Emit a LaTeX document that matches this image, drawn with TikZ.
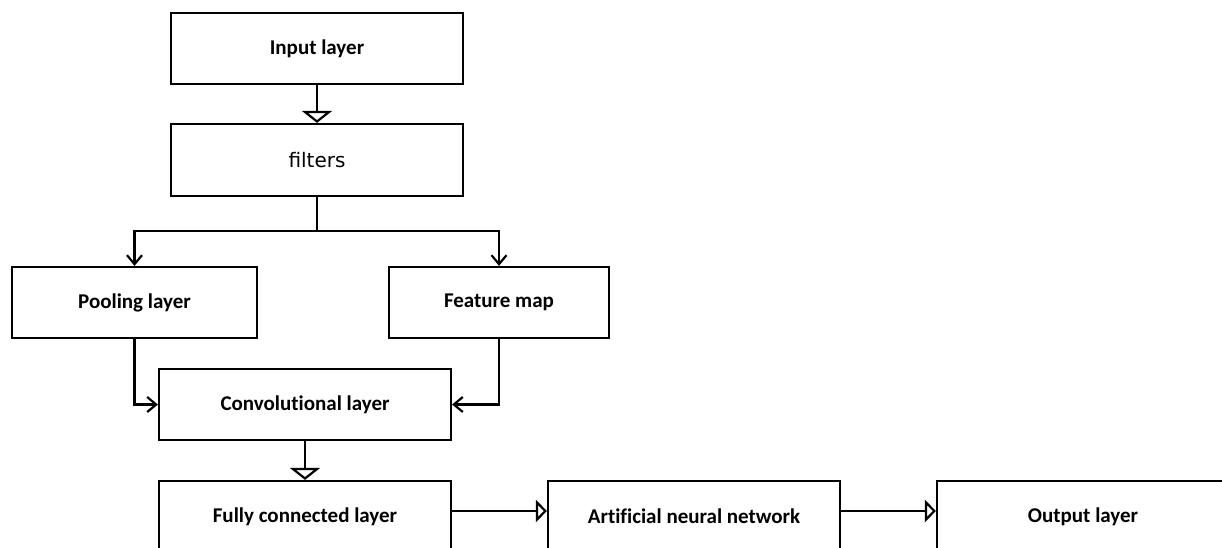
\documentclass[tikz,border=0pt]{standalone}
\usepackage{fontspec}
\setmainfont[Ligatures={NoCommon}]{Carlito}
\newfontfamily\dejavu{DejaVu Sans}
\usetikzlibrary{arrows.meta}
\begin{document}
\begin{tikzpicture}[x=1pt,y=-1pt,
  box/.style={draw=black, line width=2.2pt, fill=white, inner sep=0pt, minimum height=71pt,
    font=\fontsize{21}{25}\selectfont\bfseries},
  line/.style={draw=black, line width=2.2pt},
  triv/.style={line, -{Triangle[open, length=12pt, width=30pt, line width=2.2pt]}},
  trih/.style={line, -{Triangle[open, length=11pt, width=22pt, line width=2.2pt]}},
  barb/.style={line, -{Straight Barb[length=9pt, width=15pt, line width=2.2pt]}}]
\clip (0,0) rectangle (1222,548);
\useasboundingbox (0,0) rectangle (1222,548);
\fill[white] (0,0) rectangle (1222,548);

\node[box, minimum width=292pt] (in) at (317,48.5) {Input layer};
\node[box, minimum width=292pt, minimum height=72pt, font=\fontsize{20}{24}\selectfont\dejavu] (filt) at (317,160) {filters};
\node[box, minimum width=245pt] (pool) at (134.5,302.5) {Pooling layer};
\node[box, minimum width=220pt] (feat) at (499,302.5) {Feature map};
\node[box, minimum width=292pt] (conv) at (305,404.5) {Convolutional layer};
\node[box, minimum width=292pt] (fc) at (305,516.5) {Fully connected layer};
\node[box, minimum width=292pt] (ann) at (694,516.5) {Artificial neural network};
\node[box, minimum width=292pt] (out) at (1083,516.5) {Output layer};

\coordinate (br) at (317,231);

\draw[triv] (in.south) -- (filt.north);
\draw[line] (filt.south) -- (br);
\draw[barb] (br) -| (pool.north);
\draw[barb] (br) -| (feat.north);
\draw[barb] (pool.south) |- (conv.west);
\draw[barb] (feat.south) |- (conv.east);
\draw[triv] (conv.south) -- (fc.north);
\draw[trih] ([yshift=5.5pt]fc.east) -- ([yshift=5.5pt]ann.west);
\draw[trih] ([yshift=5.5pt]ann.east) -- ([yshift=5.5pt]out.west);
\end{tikzpicture}
\end{document}
